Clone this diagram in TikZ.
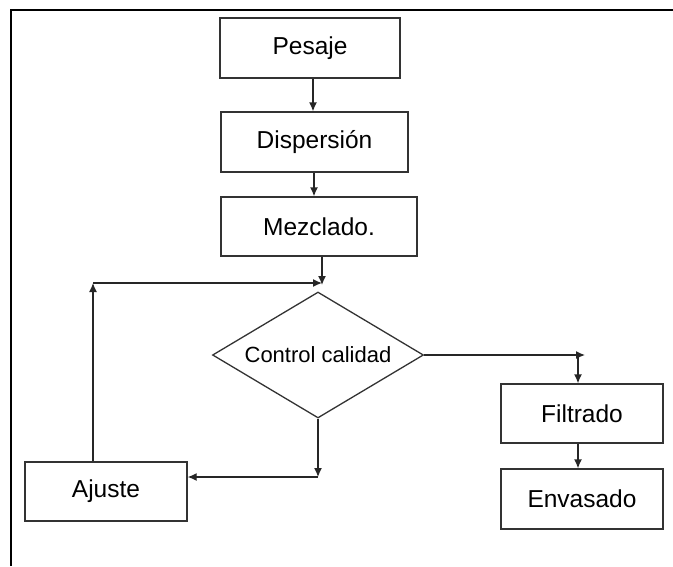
\documentclass[tikz,border=0pt]{standalone}
\usepackage{fontspec}
\setmainfont{Liberation Sans}
\usetikzlibrary{shapes.geometric,arrows.meta}
\begin{document}
\begin{tikzpicture}[x=1pt,y=-1pt,
  box/.style={draw=black!80,line width=1.3pt,rectangle,inner sep=0pt,font=\fontsize{24.5}{29}\selectfont},
  dia/.style={draw=black!80,line width=1.3pt,diamond,aspect=1.67,inner sep=0pt,minimum width=211pt,minimum height=126pt,font=\fontsize{22}{26}\selectfont},
  conn/.style={draw=black!85,line width=1.3pt},
  arr/.style={conn,-{Latex[length=9pt,width=8pt]}},
  frameline/.style={draw=black,line width=2pt}]
\useasboundingbox (0,0) rectangle (673,566);
\draw[frameline] (11,566) -- (11,10) -- (673,10);
\node[box,minimum width=180pt,minimum height=60pt] (pes) at (310,48) {Pesaje};
\node[box,minimum width=187pt,minimum height=60pt] (dis) at (314.5,142) {Dispersión};
\node[box,minimum width=196pt,minimum height=59pt] (mez) at (319,226.5) {Mezclado.};
\node[dia] (ctl) at (318,355) {Control calidad};
\node[box,minimum width=162pt,minimum height=59pt] (aju) at (106,491.5) {Ajuste};
\node[box,minimum width=162pt,minimum height=59pt] (fil) at (582,413.5) {Filtrado};
\node[box,minimum width=162pt,minimum height=60pt] (env) at (582,499) {Envasado};
\coordinate (j) at (322,285);
\coordinate (c1) at (93,283);
\coordinate (c2) at (316,477);
\coordinate (c3) at (585,355);
\coordinate (c4) at (578,355);
\draw[arr] (pes.south -| 313,0) -- (dis.north -| 313,0);
\draw[arr] (dis.south -| 314,0) -- (mez.north -| 314,0);
\draw[arr] (mez.south -| j) -- (j);
\draw[arr] (aju.north -| c1) -- (c1);
\draw[arr] (c1) -- (c1 -| j);
\draw[arr] (ctl.south) -- (ctl.south |- c2);
\draw[arr] (ctl.south |- c2) -- (aju.east |- c2);
\draw[arr] (ctl.east) -- (ctl.east -| c3);
\draw[arr] (c4) -- (fil.north -| c4);
\draw[arr] (fil.south -| c4) -- (env.north -| c4);
\end{tikzpicture}
\end{document}
